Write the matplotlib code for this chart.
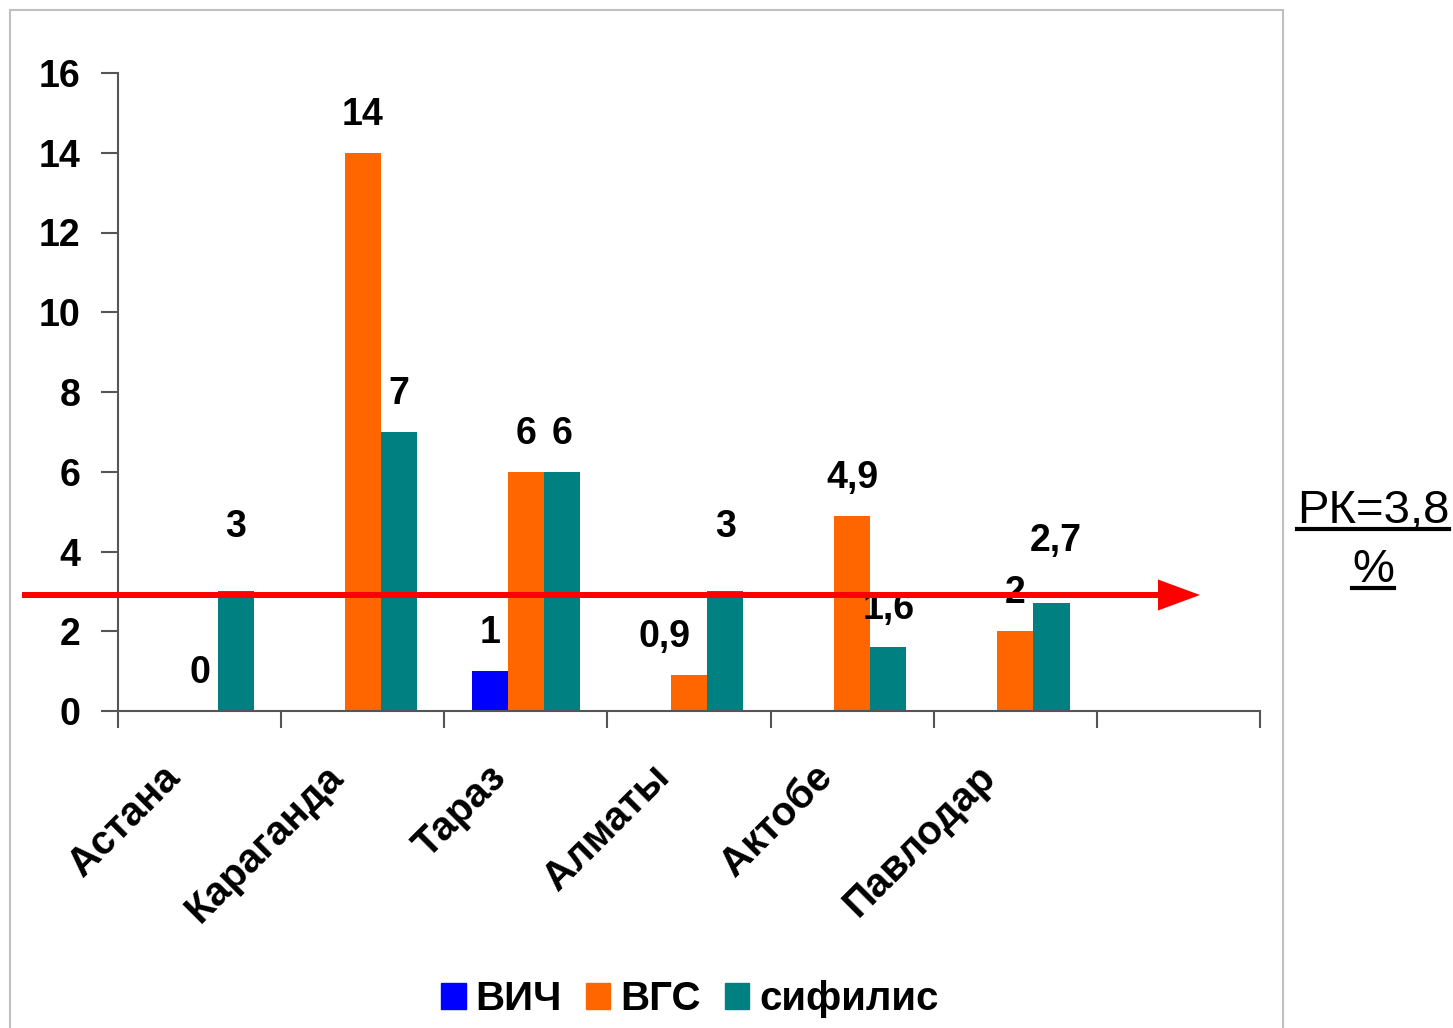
import numpy as np
import matplotlib
matplotlib.use("Agg")
import matplotlib.pyplot as plt
import matplotlib.transforms as mtransforms
from matplotlib.patches import FancyArrow, Rectangle, Patch
from matplotlib.lines import Line2D

plt.rcParams["font.family"] = ["Liberation Sans", "DejaVu Sans"]

cities = ["Астана", "Караганда", "Тараз", "Алматы", "Актобе", "Павлодар", ""]
series = ["ВИЧ", "ВГС", "сифилис"]
hiv = [np.nan, np.nan, 1, np.nan, np.nan, np.nan, np.nan]
hcv = [0, 14, 6, 0.9, 4.9, 2, np.nan]
syph = [3, 7, 6, 3, 1.6, 2.7, np.nan]
colors = ["#0000FF", "#FF6600", "#008080"]
rk_text = "РК=3,8"

# label nudges (px) where the labels were moved by hand
label_shift = {(1, 3): (-24, 0), (2, 0): (0, 26), (2, 3): (0, 26), (2, 5): (4, 24)}

W, H = 1453, 1028
fig = plt.figure(figsize=(W / 100, H / 100), dpi=100)
ax = fig.add_axes([118 / W, 1 - 711 / H, (1260 - 118) / W, (711 - 73) / H])

x = np.arange(len(cities))
w = 0.222
px2pt = 72 / 100
for i, vals in enumerate([hiv, hcv, syph]):
    vals = np.array(vals, dtype=float)
    pos = x + (i - 1) * w
    ax.bar(pos, np.nan_to_num(vals), width=w, color=colors[i], label=series[i])
    for j, v in enumerate(vals):
        if np.isnan(v):
            continue
        dx, dy = label_shift.get((i, j), (0, 0))
        txt = ("%g" % v).replace(".", ",")
        ax.annotate(txt, (pos[j], v), xytext=(dx * px2pt, (38 + dy) * px2pt),
                    textcoords="offset points", ha="center", va="center",
                    fontsize=27, fontweight="bold")

ax.set_xlim(-0.5, len(cities) - 0.5)
ax.set_ylim(0, 16)
ax.set_yticks(range(0, 17, 2))
ax.set_xticks(np.arange(-0.5, len(cities), 1))
ax.set_xticklabels([])
ax.set_xticks(x, minor=True)
ax.set_xticklabels(cities, minor=True, rotation=45, ha="right",
                   rotation_mode="anchor", fontsize=29, fontweight="bold")
ax.tick_params(axis="x", which="minor", length=0, pad=0)
ax.tick_params(axis="x", which="major", length=12, width=1.5, color="#555555")
ax.tick_params(axis="y", length=12, width=1.5, color="#555555", pad=15,
               labelsize=27)
for lab in ax.get_yticklabels():
    lab.set_fontweight("bold")
off = mtransforms.ScaledTranslation(-26 / 100, -60 / 100, fig.dpi_scale_trans)
for lab in ax.get_xticklabels(minor=True):
    lab.set_transform(lab.get_transform() + off)
    lab.set_va("center")

for s in ["top", "right"]:
    ax.spines[s].set_visible(False)
for s in ["left", "bottom"]:
    ax.spines[s].set_color("#555555")
    ax.spines[s].set_linewidth(1.5)

handles = [Patch(color=c) for c in colors]
fig.legend(handles, series, loc="center", bbox_to_anchor=(690 / W, 1 - 999 / H),
           ncol=3, frameon=False, handlelength=0.6, handleheight=0.6,
           handletextpad=0.25, columnspacing=0.6,
           prop={"size": 29, "weight": "bold"})

ident = mtransforms.IdentityTransform()
fig.add_artist(Rectangle((10, -5), 1273, H - 5, fill=False, ec="#c0c0c0",
                         lw=1.5, transform=ident))
fig.add_artist(FancyArrow(22, H - 595, 1178, 0, width=6, head_width=31,
                          head_length=42, length_includes_head=True,
                          color="#FF0000", lw=0, transform=ident))

t1 = fig.text(1373 / W, 1 - 523 / H, rk_text, ha="center", va="baseline",
              fontsize=34)
t2 = fig.text(1373 / W, 1 - 582 / H, "%", ha="center", va="baseline",
              fontsize=34)
fig.canvas.draw()
r = fig.canvas.get_renderer()
for t in (t1, t2):
    bb = t.get_window_extent(r)
    yb = bb.y0 + 4
    fig.add_artist(Line2D([bb.x0, bb.x1], [yb, yb], color="black", lw=3,
                          transform=ident))

fig.savefig("out.png", dpi=100)
